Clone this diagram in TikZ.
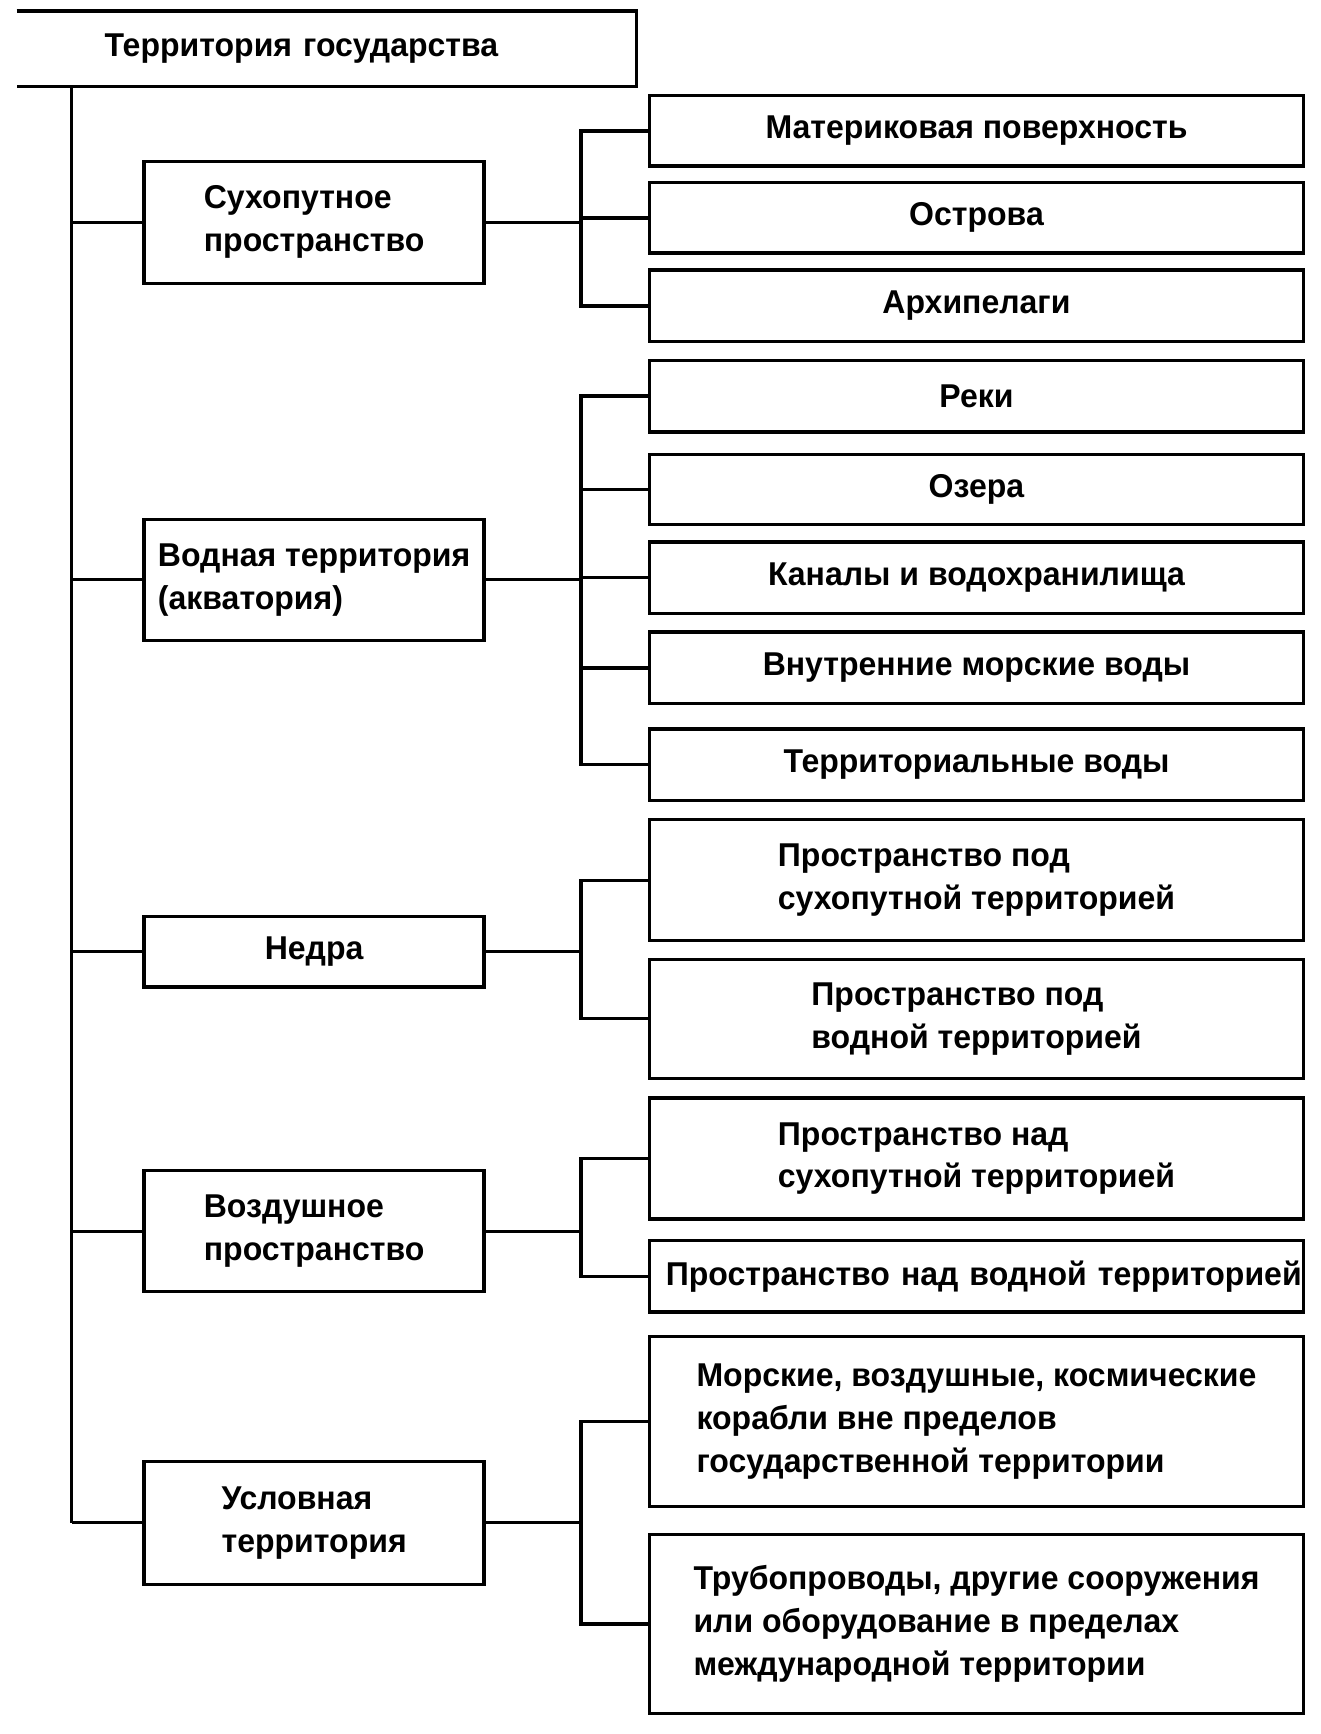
\documentclass[tikz,border=0pt]{standalone}
\usepackage{fontspec}
\setmainfont[FakeStretch=0.97]{Liberation Sans}

\begin{document}
\begin{tikzpicture}[x=1pt, y=-1pt,
	every node/.style={font=\fontsize{30}{39}\selectfont\bfseries},
	box/.style={draw, line width=3pt, inner sep=0pt, align=left},
	kind/.style={box, minimum width=309pt},
	part/.style={box, minimum width=595pt},
	link/.style={line width=3pt}]

\path[use as bounding box] (0,0) rectangle (1200,1576);

% root, open on the left
\node[anchor=north west, minimum width=563pt, minimum height=68pt, inner xsep=80pt, inner ysep=0pt, text width=403pt, align=left] (root) at (15,10) {Территория государства};
\draw[link] (root.north west) -- (root.north east) -- (root.south east) -- (root.south west);

% first level
\foreach \n/\y/\h/\t in {land/202/111pt/{Сухопутное\\пространство},
	water/527/110pt/{Водная территория\\(акватория)},
	subsoil/865/64pt/Недра,
	air/1119/110pt/{Воздушное\\пространство},
	cond/1384/112pt/{Условная\\территория}}
	\node[kind, minimum height=\h] (\n) at (285.5,\y) {\t};

% second level
\foreach \n/\y/\h/\t in {p1/119/64pt/Материковая поверхность,
	p2/198/64pt/Острова,
	p3/278/65pt/Архипелаги,
	w1/360/65pt/Реки,
	w2/445/64pt/Озера,
	w3/525/65pt/Каналы и водохранилища,
	w4/607/65pt/Внутренние морские воды,
	w5/695/65pt/Территориальные воды,
	s1/800/110pt/{Пространство под\\сухопутной территорией},
	s2/926/108pt/{Пространство под\\водной территорией},
	a1/1053/110pt/{Пространство над\\сухопутной территорией},
	c1/1292/155pt/{Морские, воздушные, космические\\корабли вне пределов\\государственной территории},
	c2/1476/163pt/{Трубопроводы, другие сооружения\\или оборудование в пределах\\международной территории}}
	\node[part, minimum height=\h] (\n) at (887.5,\y) {\t};

\node[part, minimum height=65pt, text width=591pt, inner xsep=2pt, align=right] (a2) at (887.5,1160) {Пространство над водной территорией};

% connectors
\coordinate (trunk) at (65,0);
\coordinate (fork) at (528,0);

\draw[link] (trunk |- root.south) -- (trunk |- cond.west);
\foreach \k in {land,water,subsoil,air,cond}
	\draw[link] (trunk |- \k.west) -- (\k.west);

\foreach \k/\a/\b in {land/p1/p3, water/w1/w5, subsoil/s1/s2, air/a1/a2, cond/c1/c2}
{
	\draw[link] (\k.east) -- (\k.east -| fork);
	\draw[link] (\a.west) -| (fork |- \b.west) -- (\b.west);
}
\foreach \m in {p2,w2,w3,w4}
	\draw[link] (\m.west) -- (\m.west -| fork);

\end{tikzpicture}
\end{document}
